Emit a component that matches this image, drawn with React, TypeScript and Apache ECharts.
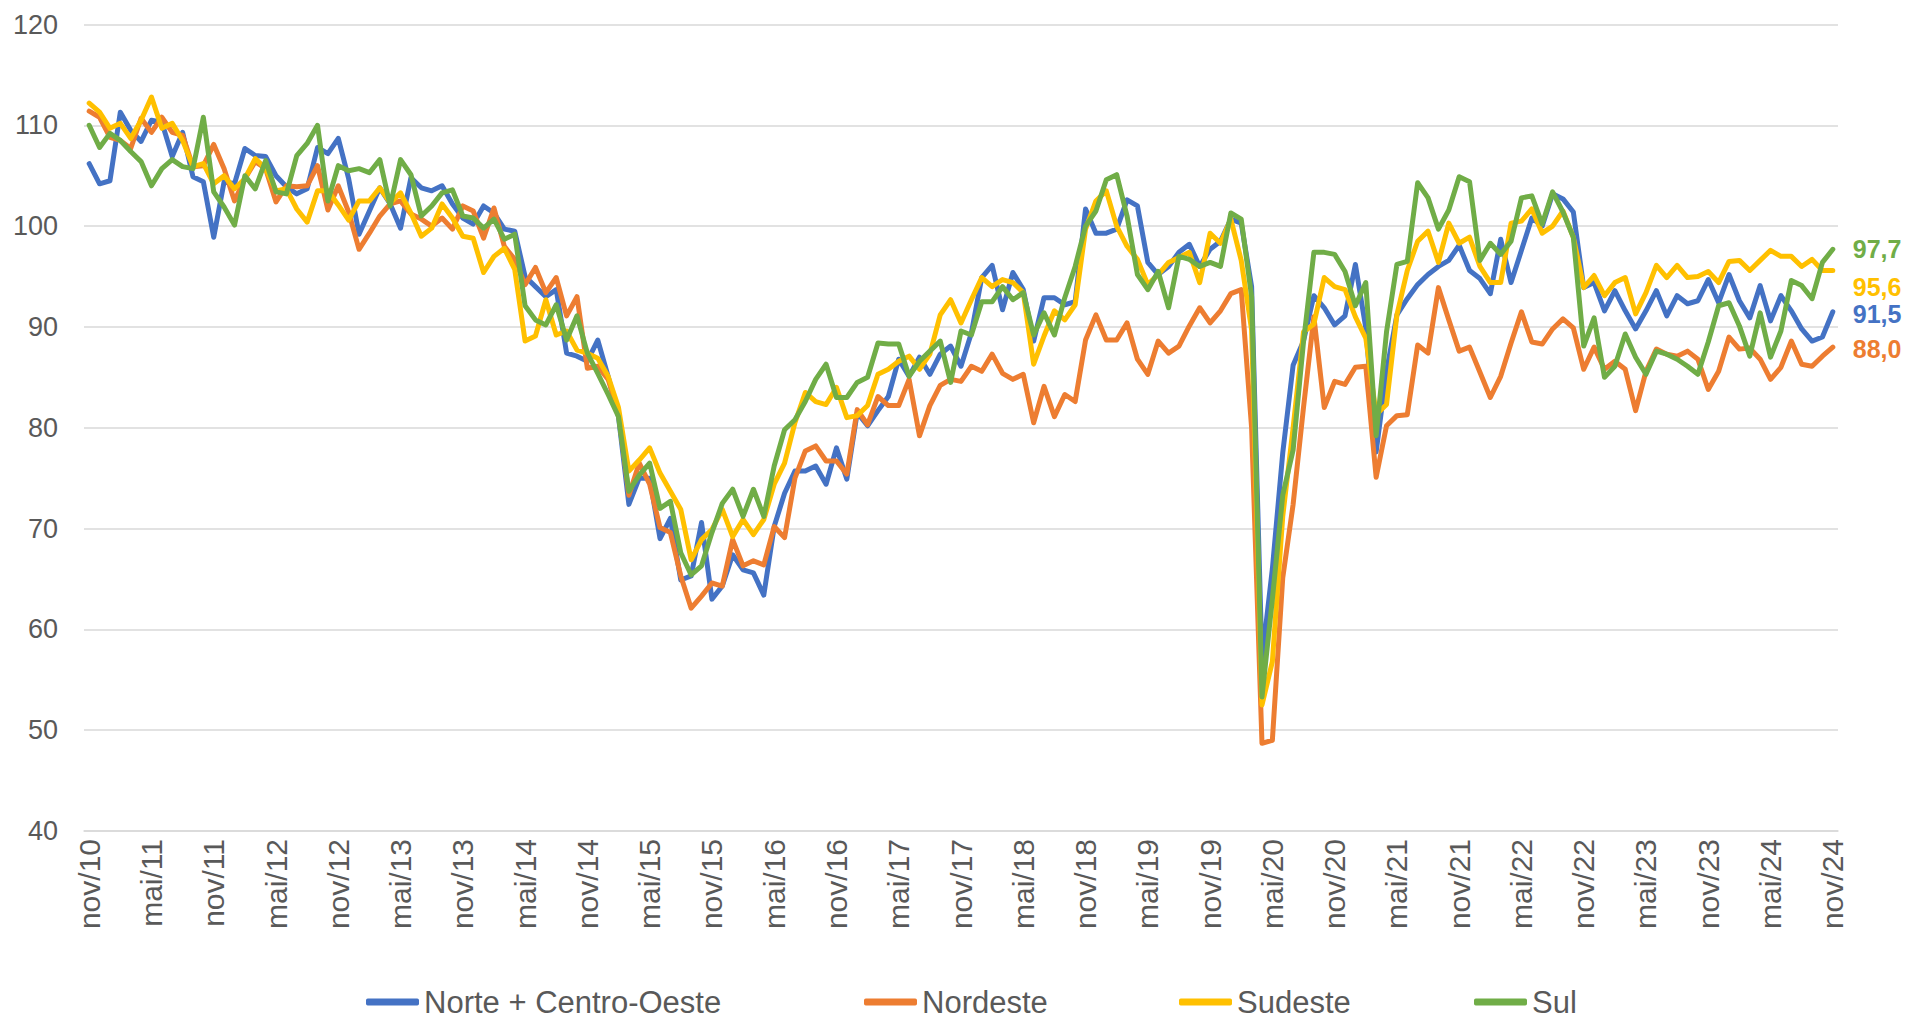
import React, { useEffect, useRef } from "react";
import * as echarts from "echarts";

const MONTH_NAMES = ["jan", "fev", "mar", "abr", "mai", "jun", "jul", "ago", "set", "out", "nov", "dez"];
const START_MONTH = 10; // nov
const START_YEAR = 10; // 2010
const N_MONTHS = 169; // nov/10 .. nov/24

const categories: string[] = [];
for (let k = 0; k < N_MONTHS; k++) {
  const t = START_MONTH + k;
  const m = t % 12;
  const y = START_YEAR + Math.floor(t / 12);
  categories.push(`${MONTH_NAMES[m]}/${String(y).padStart(2, "0")}`);
}

const SERIES_NAMES = ["Norte + Centro-Oeste", "Nordeste", "Sudeste", "Sul"];
const COLORS = ["#4472C4", "#ED7D31", "#FFC000", "#70AD47"];

const norteCentroOeste = [
  106.2, 104.2, 104.5, 111.3, 109.5, 108.4, 110.5, 110.3, 106.9, 109.3,
  104.9, 104.4, 98.9, 104.4, 104.2, 107.7, 107.0, 106.9, 105.0, 103.9,
  103.2, 103.7, 107.8, 107.2, 108.7, 104.7, 99.2, 101.5, 103.8, 102.2,
  99.8, 104.8, 103.8, 103.5, 104.0, 102.2, 100.8, 100.2, 102.0, 101.3,
  99.7, 99.5, 95.0, 94.0, 93.0, 93.7, 87.4, 87.1, 86.6, 88.7,
  85.1, 81.1, 72.4, 75.0, 75.0, 69.0, 71.0, 64.9, 65.3, 70.6,
  63.0, 64.3, 67.4, 65.9, 65.6, 63.4, 70.2, 73.5, 75.7, 75.7,
  76.2, 74.4, 78.0, 74.9, 81.5, 80.2, 81.7, 83.1, 86.8, 85.1,
  87.0, 85.3, 87.3, 88.1, 86.1, 89.4, 94.9, 96.1, 91.7, 95.4,
  93.7, 88.6, 92.9, 92.9, 92.2, 92.5, 101.7, 99.3, 99.3, 99.7,
  102.6, 102.0, 96.4, 95.2, 96.0, 97.4, 98.2, 96.0, 97.7, 98.5,
  100.7, 100.3, 94.0, 57.0, 66.0, 77.5, 86.2, 88.6, 93.1, 91.9,
  90.2, 91.1, 96.2, 89.9, 77.6, 85.6, 91.2, 92.8, 94.2, 95.2,
  96.0, 96.6, 98.1, 95.6, 94.8, 93.3, 98.7, 94.4, 97.6, 100.8,
  100.0, 103.2, 102.7, 101.4, 93.9, 94.4, 91.6, 93.6, 91.6, 89.8,
  91.6, 93.6, 91.1, 93.1, 92.3, 92.6, 94.7, 92.4, 95.2, 92.6,
  90.9, 94.1, 90.6, 93.1, 91.6, 89.8, 88.6, 89.0, 91.5,
];

const nordeste = [
  111.4, 110.8, 108.8, 108.5, 107.7, 110.7, 109.3, 110.8, 109.3, 109.0,
  105.9, 106.0, 108.1, 105.7, 102.5, 104.7, 106.4, 105.7, 102.4, 104.0,
  103.9, 104.0, 106.0, 101.6, 104.0, 101.4, 97.7, 99.3, 101.0, 102.2,
  102.5, 101.2, 100.7, 100.0, 100.8, 99.7, 102.0, 101.5, 98.8, 101.8,
  98.0, 96.7, 94.2, 95.9, 93.4, 94.9, 91.1, 93.0, 85.9, 86.1,
  84.8, 81.5, 73.3, 76.5, 74.4, 70.1, 69.6, 65.3, 62.1, 63.3,
  64.6, 64.3, 68.9, 66.3, 66.8, 66.4, 70.2, 69.1, 75.0, 77.7,
  78.2, 76.7, 76.7, 75.4, 81.8, 80.3, 83.1, 82.2, 82.2, 84.8,
  79.2, 82.2, 84.2, 84.8, 84.6, 86.1, 85.6, 87.3, 85.4, 84.8,
  85.3, 80.5, 84.1, 81.1, 83.3, 82.6, 88.7, 91.2, 88.7, 88.7,
  90.4, 86.8, 85.3, 88.6, 87.4, 88.1, 90.1, 91.9, 90.4, 91.6,
  93.3, 93.7, 80.0, 48.7, 49.0, 65.1, 72.4, 82.0, 91.0, 82.0,
  84.6, 84.3, 86.0, 86.1, 75.1, 80.2, 81.2, 81.3, 88.2, 87.4,
  93.9, 90.7, 87.6, 88.0, 85.5, 83.0, 85.1, 88.4, 91.5, 88.5,
  88.3, 89.8, 90.8, 89.9, 85.8, 88.0, 85.8, 86.6, 85.8, 81.7,
  85.6, 87.8, 87.3, 87.1, 87.6, 86.8, 83.8, 85.6, 89.0, 87.8,
  87.9, 86.8, 84.8, 86.0, 88.6, 86.3, 86.1, 87.1, 88.0,
];

const sudeste = [
  112.2, 111.3, 109.7, 110.2, 108.7, 110.5, 112.8, 109.7, 110.2, 108.5,
  105.9, 106.2, 104.2, 105.0, 103.7, 104.7, 106.7, 105.7, 103.5, 103.7,
  101.7, 100.4, 103.5, 103.5, 102.1, 100.6, 102.5, 102.5, 103.8, 102.3,
  103.3, 101.3, 99.0, 99.8, 102.2, 100.8, 99.0, 98.8, 95.4, 97.0,
  97.8, 95.7, 88.6, 89.1, 92.7, 89.2, 89.6, 87.7, 87.4, 86.9,
  85.1, 82.0, 75.7, 76.8, 78.0, 75.5, 73.7, 71.9, 66.9, 68.9,
  69.9, 71.9, 69.2, 70.9, 69.4, 70.9, 74.4, 76.5, 80.5, 83.5,
  82.6, 82.3, 84.0, 81.0, 81.2, 82.2, 85.3, 85.8, 86.6, 87.1,
  85.8, 87.3, 91.2, 92.7, 90.4, 92.7, 94.9, 94.0, 94.7, 94.4,
  93.4, 86.3, 89.1, 91.6, 90.7, 92.2, 99.7, 102.5, 103.5, 100.0,
  98.0, 96.7, 94.2, 95.2, 96.4, 96.9, 97.4, 94.4, 99.3, 98.3,
  100.7, 96.6, 89.7, 52.5, 56.8, 71.2, 80.0, 89.5, 90.3, 94.9,
  94.0, 93.7, 91.0, 88.9, 81.3, 82.3, 91.2, 95.6, 98.5, 99.5,
  96.4, 100.3, 98.3, 98.9, 96.0, 94.4, 94.4, 100.3, 100.5, 101.7,
  99.3, 100.0, 101.5, 98.9, 93.9, 95.1, 93.1, 94.4, 94.9, 91.3,
  93.4, 96.1, 94.9, 96.1, 94.9, 95.0, 95.5, 94.4, 96.5, 96.6,
  95.6, 96.6, 97.6, 97.0, 97.0, 96.0, 96.7, 95.6, 95.6,
];

const sul = [
  110.0, 107.8, 109.2, 108.5, 107.4, 106.4, 104.0, 105.7, 106.6, 105.9,
  105.7, 110.8, 103.4, 101.9, 100.1, 105.0, 103.7, 106.5, 103.4, 103.2,
  107.0, 108.2, 110.0, 102.5, 106.0, 105.5, 105.7, 105.3, 106.6, 102.0,
  106.6, 105.1, 101.0, 102.0, 103.3, 103.6, 101.0, 100.8, 99.8, 100.7,
  98.7, 99.2, 92.1, 90.7, 90.2, 92.2, 88.7, 91.1, 87.4, 85.4,
  83.3, 81.1, 73.7, 75.3, 76.5, 72.0, 72.7, 67.6, 65.4, 66.3,
  69.6, 72.5, 73.9, 71.2, 73.9, 71.2, 76.2, 79.8, 80.8, 82.6,
  84.8, 86.3, 83.0, 83.0, 84.5, 85.0, 88.4, 88.3, 88.3, 85.1,
  86.6, 87.6, 88.6, 84.5, 89.6, 89.2, 92.5, 92.5, 94.0, 92.7,
  93.4, 89.2, 91.4, 89.2, 92.9, 96.0, 100.0, 101.5, 104.6, 105.1,
  101.0, 95.2, 93.7, 95.5, 91.9, 97.0, 96.7, 96.0, 96.4, 96.0,
  101.3, 100.7, 93.0, 53.3, 63.0, 73.3, 77.8, 88.5, 97.4, 97.4,
  97.2, 95.5, 92.1, 94.4, 79.2, 89.5, 96.2, 96.5, 104.3, 102.8,
  99.7, 101.6, 104.9, 104.4, 96.6, 98.3, 97.2, 98.5, 102.8, 103.0,
  100.2, 103.4, 101.4, 98.9, 88.1, 90.9, 85.0, 86.1, 89.3, 87.0,
  85.3, 87.6, 87.3, 86.8, 86.1, 85.3, 88.5, 92.1, 92.4, 90.1,
  87.1, 91.4, 87.0, 89.6, 94.6, 94.1, 92.8, 96.4, 97.7,
];

const SERIES_VALUES = [norteCentroOeste, nordeste, sudeste, sul];
const END_LABEL_OFFSETS = [[0, 2], [0, 2], [0, 17], [0, 0]];
const LEGEND_TEXT_WIDTHS = [321, 138, 118, 45];

const FONT = "'Liberation Sans', Arial, sans-serif";
const TEXT_GRAY = "#595959";
const GRID_GRAY = "#D9D9D9";

export default function App() {
  const ref = useRef<HTMLDivElement>(null);

  useEffect(() => {
    if (!ref.current) return;
    const chart = echarts.init(ref.current, undefined, { renderer: "svg" });

    const series = SERIES_NAMES.map((name, idx) => ({
      name,
      type: "line",
      data: SERIES_VALUES[idx],
      showSymbol: false,
      symbol: "none",
      color: COLORS[idx],
      lineStyle: { width: 5, color: COLORS[idx], cap: "round", join: "round" },
      endLabel: {
        show: true,
        distance: 20,
        offset: END_LABEL_OFFSETS[idx],
        color: COLORS[idx],
        fontFamily: FONT,
        fontSize: 25,
        fontWeight: "bold",
        formatter: (p: any) => Number(p.value).toFixed(1).replace(".", ","),
      },
      emphasis: { disabled: true },
    }));

    chart.setOption({
      animation: false,
      backgroundColor: "#ffffff",
      textStyle: { fontFamily: FONT },
      grid: {
        left: 84,
        right: 68,
        top: 24.5,
        bottom: 189,
        containLabel: false,
        outerBoundsMode: "none",
      },
      legend: {
        left: 361,
        top: 981,
        icon: "roundRect",
        itemWidth: 53,
        itemHeight: 7,
        itemGap: 119,
        textStyle: { color: TEXT_GRAY, fontSize: 31, fontFamily: FONT, lineHeight: 32 },
        data: SERIES_NAMES.map((name, idx) => ({
          name,
          itemStyle: { color: COLORS[idx] },
          textStyle: { width: LEGEND_TEXT_WIDTHS[idx], overflow: "none" },
        })),
      },
      xAxis: {
        type: "category",
        data: categories,
        boundaryGap: true,
        axisLine: { show: true, lineStyle: { color: GRID_GRAY, width: 1.5 } },
        axisTick: { show: false },
        axisLabel: {
          interval: 5,
          rotate: 90,
          margin: 8,
          color: TEXT_GRAY,
          fontSize: 30,
          fontFamily: FONT,
        },
        splitLine: { show: false },
      },
      yAxis: {
        type: "value",
        min: 40,
        max: 120,
        interval: 10,
        axisLine: { show: false },
        axisTick: { show: false },
        axisLabel: { color: TEXT_GRAY, fontSize: 27, margin: 26, fontFamily: FONT },
        splitLine: { show: true, lineStyle: { color: GRID_GRAY, width: 1.5 } },
      },
      series,
    });

    return () => {
      chart.dispose();
    };
  }, []);

  return (
    <div
      ref={ref}
      style={{ position: "fixed", left: 0, top: 0, width: "1906px", height: "1020px", background: "#fff" }}
    />
  );
}
